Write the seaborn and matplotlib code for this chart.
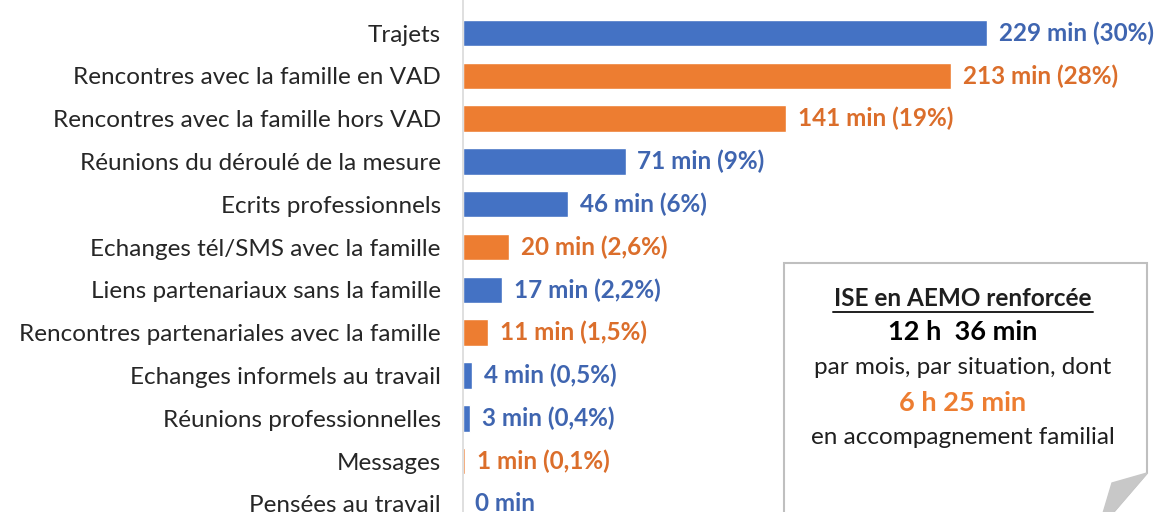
import matplotlib
matplotlib.use("Agg")
import matplotlib.pyplot as plt
import seaborn as sns
import pandas as pd
from matplotlib.patches import Polygon

categories = [
    "Trajets",
    "Rencontres avec la famille en VAD",
    "Rencontres avec la famille hors VAD",
    "Réunions du déroulé de la mesure",
    "Ecrits professionnels",
    "Echanges tél/SMS avec la famille",
    "Liens partenariaux sans la famille",
    "Rencontres partenariales avec la famille",
    "Echanges informels au travail",
    "Réunions professionnelles",
    "Messages",
    "Pensées au travail",
]
minutes = [229, 213, 141, 71, 46, 20, 17, 11, 4, 3, 1, 0]
percents = ["30%", "28%", "19%", "9%", "6%", "2,6%", "2,2%", "1,5%", "0,5%", "0,4%", "0,1%", ""]
groups = ["autre", "famille", "famille", "autre", "autre", "famille", "autre",
          "famille", "autre", "autre", "famille", "autre"]

BLUE = "#4472C4"
ORANGE = "#ED7D31"
palette = {"autre": BLUE, "famille": ORANGE}
text_colors = {"autre": "#3F65B0", "famille": "#DB6E2B"}

sns.set_theme(style="white")
plt.rcParams["font.family"] = ["Lato", "DejaVu Sans"]

df = pd.DataFrame({"cat": categories, "min": minutes, "grp": groups})

fig = plt.figure(figsize=(11.63, 5.12), dpi=100)
ax = fig.add_axes([463 / 1163, 0, 1 - 463 / 1163, 1])
sns.barplot(data=df, x="min", y="cat", hue="grp", palette=palette, dodge=False,
            orient="h", width=0.62, legend=False, ax=ax, order=categories,
            saturation=1)

ax.set_xlim(0, 700 / 2.29)
ax.set_ylim(11.19, -0.771)
ax.set_xlabel("")
ax.set_ylabel("")
ax.set_xticks([])
for s in ["top", "right", "bottom"]:
    ax.spines[s].set_visible(False)
ax.spines["left"].set_color("#D9D9D9")
ax.spines["left"].set_linewidth(1.2)
ax.tick_params(axis="y", length=0, pad=16, labelsize=17.5, labelcolor="#262626")

for i, (v, p, g) in enumerate(zip(minutes, percents, groups)):
    label = f"{v} min ({p})" if p else f"{v} min"
    ax.annotate(label, xy=(v, i), xytext=(8.5, 0), textcoords="offset points",
                ha="left", va="center", fontsize=17.5, fontweight="bold",
                color=text_colors[g])

# Annotation box with folded corner (pixel coordinates overlay)
ov = fig.add_axes([0, 0, 1, 1], zorder=5)
ov.set_xlim(0, 1163)
ov.set_ylim(512, 0)
ov.axis("off")
ov.patch.set_alpha(0)
box = Polygon([(784, 263), (1147, 263), (1147, 473), (1098, 530), (784, 530)],
              closed=True, facecolor="white", edgecolor="#BFBFBF", linewidth=1.5)
ov.add_patch(box)
fold = Polygon([(1147, 473), (1112, 483), (1098, 530)], closed=True,
               facecolor="#C8C8C8", edgecolor="#C8C8C8", linewidth=1)
ov.add_patch(fold)

cx = 963
ov.text(cx, 299, "ISE en AEMO renforcée", ha="center", va="center", fontsize=17.5,
        fontweight="bold", color="#1F1F1F")
ov.plot([cx - 130, cx + 130], [312, 312], color="#1F1F1F", linewidth=1.4)
ov.text(cx, 332, "12 h  36 min", ha="center", va="center", fontsize=19.5,
        fontweight="bold", color="#000000")
ov.text(cx, 368, "par mois, par situation, dont", ha="center", va="center",
        fontsize=17.5, color="#1F1F1F")
ov.text(cx, 403, "6 h 25 min", ha="center", va="center", fontsize=19.5,
        fontweight="bold", color=ORANGE)
ov.text(cx, 438, "en accompagnement familial", ha="center", va="center",
        fontsize=17.5, color="#1F1F1F")

fig.savefig("out.png", dpi=100)
